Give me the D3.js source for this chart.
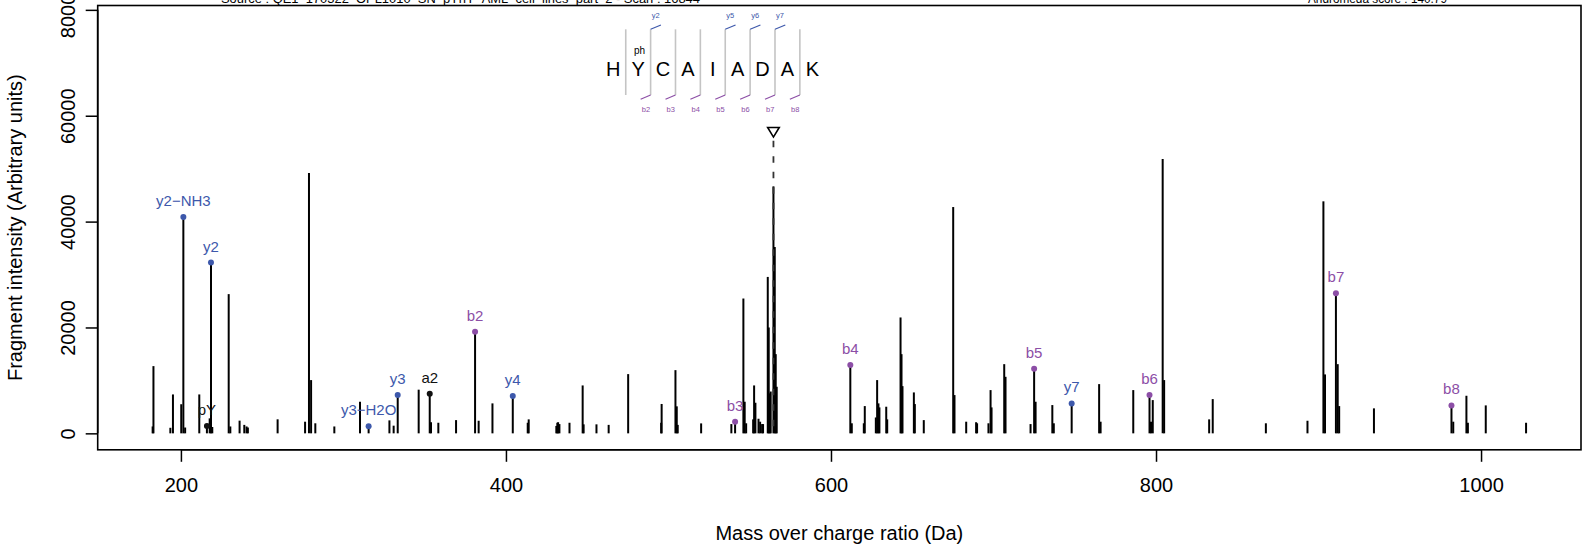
<!DOCTYPE html>
<html><head><meta charset="utf-8">
<script src="https://cdn.jsdelivr.net/npm/d3@7"></script>
<style>html,body{margin:0;padding:0;background:#fff;} svg{display:block;font-family:"Liberation Sans",Arial,Helvetica,sans-serif;}</style>
</head><body><svg id="chart" width="1591" height="550"></svg>
<script>
// ---------- data ----------
const peakMz = [182.6,183.1,193.5,195.1,200.2,202.6,211.3,217.7,219.3,229.4,230.4,236.1,239.0,240.4,241.2,
  259.5,276.4,278.8,280.1,282.7,294.4,310.2,328.3,330.9,346.3,353.9,358.4,369.3,383.2,391.7,413.4,414.0,
  431.0,431.6,432.1,432.9,439.1,447.2,447.8,455.7,463.2,475.2,495.5,495.8,504.3,505.1,505.7,520.1,538.7,
  546.1,546.9,547.8,552.1,552.7,553.5,555.4,556.4,557.6,558.2,561.1,561.7,562.3,562.9,564.6,565.4,566.0,566.6,
  612.8,620.2,620.8,627.6,628.4,629.2,629.8,634.0,634.6,642.8,643.4,644.0,651.0,651.6,657.1,675.2,676.0,
  683.2,689.3,689.9,696.9,698.2,698.8,706.6,707.4,722.8,725.9,736.2,737.1,765.0,765.9,786.0,796.9,798.0,
  804.1,805.0,832.7,834.9,867.6,893.2,903.0,904.0,911.8,912.7,934.1,982.9,991.0,991.9,1002.9,1027.7];
const peakIntensity = [1300,12700,1050,7350,5500,1100,7350,2830,1200,26300,1300,2400,1600,1300,1100,
  2650,2200,49170,10060,1900,1300,5970,2450,1450,8250,2100,2000,2500,2380,5660,2000,2640,
  1400,2000,2100,1750,2000,9050,1700,1700,1600,11190,2000,5550,11940,5100,1600,1880,1750,
  25470,5970,1900,2640,9050,5780,2760,2200,1750,1750,29550,20000,7550,7900,46660,35200,14960,8800,
  1900,1900,5150,3000,10060,5660,4900,5030,2640,21890,14960,8920,7730,5530,2500,42750,7230,
  2200,2100,1900,1900,8170,4900,13070,10680,1750,5970,5340,1900,9300,2200,8170,2200,6280,
  51810,10060,2640,6470,1900,2380,43830,11130,13070,5150,4720,2200,7100,2000,5280,2000];

const ionLabel = ["y2\u2212NH3","pY","y2","y3\u2212H2O","y3","a2","b2","y4","b3","b4","b5","y7","b6","b7","b8"];
const ionMz = [201.5,216.0,218.5,315.5,333.4,353.1,381.0,404.2,541.0,611.9,725.0,748.1,796.0,910.7,981.8];
const ionIntensity = [40870,1380,32260,1320,7230,7500,19170,7040,2200,12890,12190,5660,7230,26470,5280];
const ionSeries = ["y","other","y","y","y","other","b","y","b","b","b","y","b","b","b"];

const residues = ["H","Y","C","A","I","A","D","A","K"];
const modPosition = [1];
const modLabel = ["ph"];
const yBreaks = [2,5,6,7];
const bBreaks = [2,3,4,5,6,7,8];

const precursorMz = 564.6;
const xTicks = [200,400,600,800,1000];
const yTicks = [0,20000,40000,60000,80000];
const titleLeft = "Source : QE1_170322_OPL1010_SN_pYnY_AML_cell_lines_part_2 - Scan : 16844";
const titleRight = "Andromeda score : 140.79";
const xTitle = "Mass over charge ratio (Da)";
const yTitle = "Fragment intensity (Arbitrary units)";

// ---------- styles ----------
const colors = {y:"#3d58ab", b:"#8c4ea6", other:"#111111"};
const plot = {left:97.7, right:1581, top:5.5, bottom:449.8};

const svg = d3.select("#chart");

// ---------- scales (R style 4% extension) ----------
const allMz = peakMz.concat(ionMz);
const allI = peakIntensity.concat(ionIntensity);
const [mzMin, mzMax] = d3.extent(allMz);
const xr = mzMax - mzMin;
const x = d3.scaleLinear().domain([mzMin - 0.04*xr, mzMax + 0.04*xr]).range([plot.left, plot.right]);
const maxI = d3.max(allI);
const yLim = 1.5*maxI;
const y = d3.scaleLinear().domain([-0.04*yLim, 1.04*yLim]).range([plot.bottom, plot.top]);

// ---------- top texts (clipped at top edge) ----------
svg.append("text").attr("x",221).attr("y",2.6).attr("font-size",13).attr("textLength",479)
  .attr("lengthAdjust","spacingAndGlyphs").attr("fill","#000").text(titleLeft);
svg.append("text").attr("x",1308).attr("y",2.6).attr("font-size",13).attr("textLength",139)
  .attr("lengthAdjust","spacingAndGlyphs").attr("fill","#000").text(titleRight);

// ---------- peaks ----------
svg.append("g").selectAll("line").data(d3.range(peakMz.length)).join("line")
  .attr("x1", i=>x(peakMz[i])).attr("x2", i=>x(peakMz[i]))
  .attr("y1", y(0)).attr("y2", i=>y(peakIntensity[i]))
  .attr("stroke","#000").attr("stroke-width",2);

// ---------- precursor ----------
const pX = x(precursorMz), pY = y(1.1*maxI);
svg.append("line").attr("x1",pX).attr("x2",pX).attr("y1",pY+9).attr("y2",y(0))
  .attr("stroke","#333").attr("stroke-width",1.8).attr("stroke-dasharray","6.5,9");
svg.append("path").attr("d",`M${pX-5.8},${pY-4.2}L${pX+5.8},${pY-4.2}L${pX},${pY+5.4}Z`)
  .attr("fill","none").attr("stroke","#000").attr("stroke-width",1.6).attr("stroke-linejoin","miter");

// ---------- annotated ions ----------
const ions = svg.append("g");
const idx = d3.range(ionMz.length);
ions.selectAll("line").data(idx).join("line")
  .attr("x1", i=>x(ionMz[i])).attr("x2", i=>x(ionMz[i]))
  .attr("y1", y(0)).attr("y2", i=>y(ionIntensity[i]))
  .attr("stroke","#000").attr("stroke-width",2);
ions.selectAll("circle").data(idx).join("circle")
  .attr("cx", i=>x(ionMz[i])).attr("cy", i=>y(ionIntensity[i])).attr("r",3)
  .attr("fill", i=>colors[ionSeries[i]]);
ions.selectAll("text").data(idx).join("text")
  .attr("x", i=>x(ionMz[i])).attr("y", i=>y(ionIntensity[i]) - 11)
  .attr("text-anchor","middle").attr("font-size",15)
  .attr("fill", i=>colors[ionSeries[i]]).text(i=>ionLabel[i]);

// ---------- box ----------
svg.append("rect").attr("x",plot.left).attr("y",plot.top)
  .attr("width",plot.right-plot.left).attr("height",plot.bottom-plot.top)
  .attr("fill","none").attr("stroke","#000").attr("stroke-width",1.6);

// ---------- x axis ----------
const gx = svg.append("g").attr("transform",`translate(0,${plot.bottom})`)
  .call(d3.axisBottom(x).tickValues(xTicks).tickSize(12).tickFormat(d3.format("d")));
gx.select(".domain").remove();
gx.selectAll(".tick line").attr("stroke","#000").attr("stroke-width",1.5);
gx.selectAll(".tick text").attr("y",42.5).attr("dy",0).attr("font-size",20)
  .attr("font-family","Liberation Sans, Arial, sans-serif").attr("fill","#000");
gx.append("line").attr("x1",x(xTicks[0])).attr("x2",x(xTicks[xTicks.length-1]))
  .attr("y1",0).attr("y2",0).attr("stroke","#000").attr("stroke-width",1.6);

// ---------- y axis ----------
const gy = svg.append("g").attr("transform",`translate(${plot.left},0)`)
  .call(d3.axisLeft(y).tickValues(yTicks).tickSize(12).tickFormat(d3.format("d")));
gy.select(".domain").remove();
gy.selectAll(".tick line").attr("stroke","#000").attr("stroke-width",1.5);
gy.selectAll(".tick text").attr("x",0).attr("y",0).attr("dy",0)
  .attr("transform","translate(-22.7,0) rotate(-90)").attr("text-anchor","middle")
  .attr("font-size",20).attr("font-family","Liberation Sans, Arial, sans-serif").attr("fill","#000");
gy.append("line").attr("x1",0).attr("x2",0).attr("y1",y(yTicks[0])).attr("y2",y(yTicks[yTicks.length-1]))
  .attr("stroke","#000").attr("stroke-width",1.6);

// ---------- axis titles ----------
svg.append("text").attr("x",(plot.left+plot.right)/2).attr("y",539.5).attr("text-anchor","middle")
  .attr("font-size",20).attr("fill","#000").text(xTitle);
svg.append("text").attr("transform",`translate(22,${(plot.top+plot.bottom)/2}) rotate(-90)`)
  .attr("text-anchor","middle").attr("font-size",20).attr("fill","#000").text(yTitle);

// ---------- peptide sequence diagram ----------
const seqX = d3.scalePoint().domain(d3.range(residues.length)).range([613.3, 812.3]);
const seq = svg.append("g");
const step = seqX.step();
const seps = d3.range(1, residues.length);
const sepX = k => seqX(k) - step/2;
seq.selectAll("line.sep").data(seps).join("line").attr("class","sep")
  .attr("x1",sepX).attr("x2",sepX).attr("y1",29.3).attr("y2",95)
  .attr("stroke","#c4c4c4").attr("stroke-width",1.6);
seq.selectAll("text.res").data(d3.range(residues.length)).join("text").attr("class","res")
  .attr("x", i=>seqX(i)).attr("y",76.2).attr("text-anchor","middle").attr("font-size",20)
  .attr("fill","#000").text(i=>residues[i]);
seq.selectAll("text.mod").data(d3.range(modPosition.length)).join("text").attr("class","mod")
  .attr("x", i=>seqX(modPosition[i])+1.4).attr("y",53.5).attr("text-anchor","middle").attr("font-size",10)
  .attr("fill","#000").text(i=>modLabel[i]);
seq.selectAll("path.ym").data(yBreaks).join("path").attr("class","ym")
  .attr("d", k=>`M${sepX(k)},29.3L${sepX(k)+10.3},25`).attr("stroke",colors.y).attr("stroke-width",1.2).attr("fill","none");
seq.selectAll("text.yl").data(yBreaks).join("text").attr("class","yl")
  .attr("x", k=>sepX(k)+5).attr("y",18.4).attr("text-anchor","middle").attr("font-size",7.5)
  .attr("fill",colors.y).text(k=>"y"+k);
seq.selectAll("path.bm").data(bBreaks).join("path").attr("class","bm")
  .attr("d", k=>`M${sepX(k)},95L${sepX(k)-10},99.3`).attr("stroke",colors.b).attr("stroke-width",1.2).attr("fill","none");
seq.selectAll("text.bl").data(bBreaks).join("text").attr("class","bl")
  .attr("x", k=>sepX(k)-4.7).attr("y",111.7).attr("text-anchor","middle").attr("font-size",7.5)
  .attr("fill",colors.b).text(k=>"b"+k);
</script></body></html>
